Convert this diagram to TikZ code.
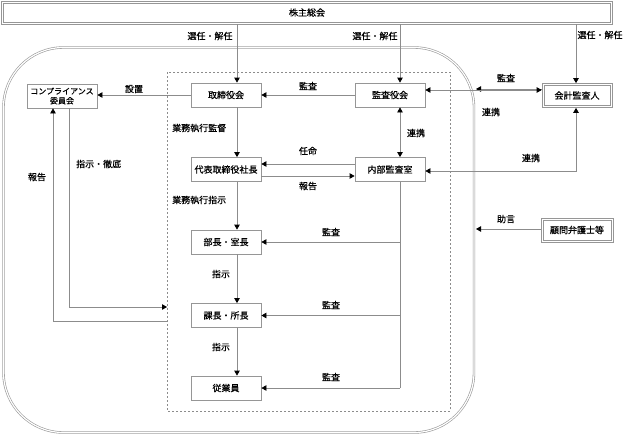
\documentclass[tikz,border=0pt]{standalone}
\usepackage{fontspec}
\setmainfont{Noto Sans CJK JP}[FakeBold=0.5]
\usetikzlibrary{arrows.meta,calc}
\definecolor{lg}{RGB}{140,140,140}
\definecolor{bg}{RGB}{150,150,150}
\begin{document}
\begin{tikzpicture}[x=1pt,y=-1pt,
  box/.style={draw=bg,line width=0.8pt,fill=white,minimum width=70pt,minimum height=24pt,inner sep=0pt,font=\fontsize{9}{10}\selectfont},
  dbox/.style={box,line width=0.7pt},
  inner/.style={draw=bg,line width=0.7pt},
  ln/.style={draw=lg,line width=0.8pt},
  arr/.style={ln,-{Triangle[length=5pt,width=5.5pt,color=black,fill=black]}},
  barr/.style={ln,{Triangle[length=5pt,width=5.5pt,color=black,fill=black]}-{Triangle[length=5pt,width=5.5pt,color=black,fill=black]}},
  lbl/.style={font=\fontsize{9}{10}\selectfont,inner sep=0pt}]
\useasboundingbox (0,0) rectangle (623,437);
% frames
\draw[draw=bg,line width=0.6pt,double=white,double distance=1.2pt,rounded corners=60pt] (3.5,47.5) rectangle (474,432.5);
\draw[draw=lg,line width=0.8pt,dash pattern=on 2pt off 2pt] (167,72) rectangle (450,411);
% nodes
\node[dbox,minimum width=611pt,minimum height=23pt] (sh) at (307,12.5) {株主総会};
\node[box,align=center,font=\fontsize{8}{9.5}\selectfont] (comp) at (62,96) {コンプライアンス\\委員会};
\node[box] (tori) at (226,95) {取締役会};
\node[box] (kansa) at (390,95) {監査役会};
\node[dbox,minimum width=70pt,minimum height=24pt] (kaikei) at (577,95.5) {会計監査人};
\node[box] (daihyo) at (226,169.5) {代表取締役社長};
\node[box] (naibu) at (390,169.5) {内部監査室};
\node[box] (bucho) at (226,242) {部長・室長};
\node[box] (kacho) at (226,315.5) {課長・所長};
\node[box] (jugyo) at (226,388) {従業員};
\node[dbox,minimum width=72pt,minimum height=24pt] (komon) at (577,230) {顧問弁護士等};
% inner lines of the double-bordered boxes
\draw[inner] ([shift={(2.2pt,-2.2pt)}]sh.north west) rectangle ([shift={(-2.2pt,2.2pt)}]sh.south east);
\draw[inner] ([shift={(2.2pt,-2.2pt)}]kaikei.north west) rectangle ([shift={(-2.2pt,2.2pt)}]kaikei.south east);
\draw[inner] ([shift={(2.2pt,-2.2pt)}]komon.north west) rectangle ([shift={(-2.2pt,2.2pt)}]komon.south east);
% helper coordinates
\coordinate (tx) at ([xshift=11pt]tori.center);
\coordinate (kx) at ([xshift=10pt]kansa.center);
\coordinate (ax) at ([xshift=-1pt]kaikei.center);
\coordinate (cx1) at ([xshift=7pt]comp.center);
\coordinate (cx2) at ([xshift=-9pt]comp.center);
\coordinate (dl1) at (167,307);
\coordinate (dl2) at (167,321);
\coordinate (ro1) at (476,89);
\coordinate (ro2) at (476,229);
% connectors
\draw[arr] (tx |- sh.south) -- (tx |- tori.north);
\draw[arr] (kx |- sh.south) -- (kx |- kansa.north);
\draw[arr] (ax |- sh.south) -- (ax |- kaikei.north);
\draw[arr] (tori.west) -- (tori.west -| comp.east);
\draw[arr] (kansa.west) -- (tori.east);
\draw[arr] (ro1 -| kaikei.west) -- (ro1);
\draw[barr] ([yshift=5pt]kansa.east) -- ([yshift=5pt]kansa.east -| kaikei.west);
\draw[arr] (tx |- tori.south) -- (tx |- daihyo.north);
\draw[arr] ([yshift=-6.5pt]daihyo.east) -- ([yshift=-6.5pt]daihyo.east -| naibu.west);
\draw[arr] ([yshift=5.5pt]naibu.west) -- ([yshift=5.5pt]naibu.west -| daihyo.east);
\draw[barr] (kx |- kansa.south) -- (kx |- naibu.north);
\draw[barr] ([yshift=-1.5pt]naibu.east) -| (ax |- kaikei.south);
\draw[arr] (tx |- daihyo.south) -- (tx |- bucho.north);
\draw[arr] (tx |- bucho.south) -- (tx |- kacho.north);
\draw[arr] (tx |- kacho.south) -- (tx |- jugyo.north);
\draw[ln] (kx |- naibu.south) -- (kx |- jugyo.east);
\draw[arr] (kx |- bucho.east) -- (bucho.east);
\draw[arr] (kx |- kacho.east) -- (kacho.east);
\draw[arr] (kx |- jugyo.east) -- (jugyo.east);
\draw[arr] (cx1 |- comp.south) |- (dl1);
\draw[arr] (dl2) -| (cx2 |- comp.south);
\draw[arr] (ro2 -| komon.west) -- (ro2);
% labels
\node[lbl] (l1) at (210,36) {選任・解任};
\node[lbl] (l2) at (375,36) {選任・解任};
\node[lbl] (l3) at (600,35) {選任・解任};
\node[lbl] (l4) at (134,89) {設置};
\node[lbl] (l5) at (308,86) {監査};
\node[lbl] (l6) at (506,78) {監査};
\node[lbl] (l7) at (491,112) {連携};
\node[lbl,anchor=west] (l8) at (172,128) {業務執行監督};
\node[lbl] (l9) at (308,151) {任命};
\node[lbl] (l10) at (308,186) {報告};
\node[lbl] (l11) at (416,133) {連携};
\node[lbl] (l12) at (531,158) {連携};
\node[lbl,anchor=west] (l13) at (172,200) {業務執行指示};
\node[lbl] (l14) at (331,232) {監査};
\node[lbl] (l15) at (331,305) {監査};
\node[lbl] (l16) at (331,377) {監査};
\node[lbl] (l17) at (221,274) {指示};
\node[lbl] (l18) at (221,347) {指示};
\node[lbl,anchor=west] (l19) at (76,164) {指示・徹底};
\node[lbl] (l20) at (37,177) {報告};
\node[lbl] (l21) at (506,219) {助言};
\end{tikzpicture}
\end{document}
